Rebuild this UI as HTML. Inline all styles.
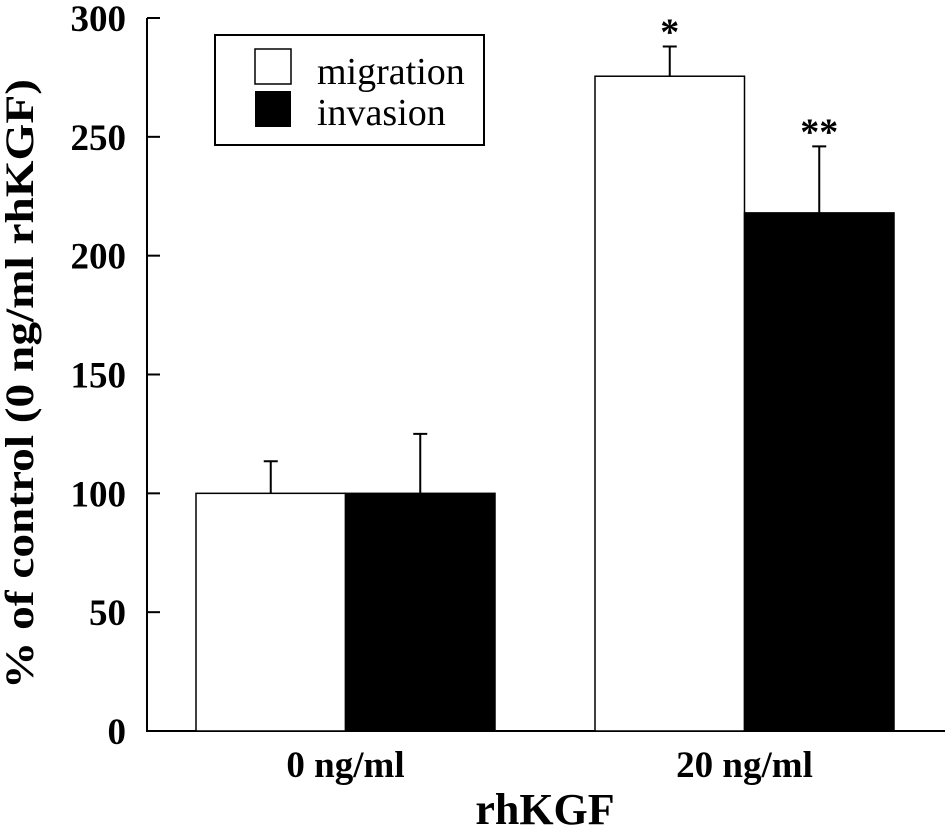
<!DOCTYPE html>
<html><head><meta charset="utf-8"><style>
body{margin:0;background:#fff}
svg{display:block;font-family:"Liberation Serif",serif}
</style></head><body>
<svg id="chart" width="945" height="830" viewBox="0 0 945 830"></svg>
<script>
const categories=["0 ng/ml","20 ng/ml"];
const migration=[100,275.5];
const invasion=[100,218];
const migrationErr=[13.5,12.5];
const invasionErr=[25,28];
const sigMarks=[["",""],["*","**"]];
const yTicks=[0,50,100,150,200,250,300];
const NS="http://www.w3.org/2000/svg";
const svg=document.getElementById('chart');
function y(v){return 731-v*(713/300);}
const groupStart=[196,595], barW=149.5;
function mk(t,a,p){const e=document.createElementNS(NS,t);for(const k in a)e.setAttribute(k,a[k]);(p||svg).appendChild(e);return e;}
let e=mk('line',{x1:147,y1:18,x2:147,y2:731,stroke:'#000','stroke-width':2});


e=mk('line',{x1:146,y1:731,x2:945,y2:731,stroke:'#000','stroke-width':2});


yTicks.forEach(t=>{
 const l=mk('line',{x1:147,y1:y(t),x2:160,y2:y(t),stroke:'#000','stroke-width':2});
 
 
 const tx=mk('text',{x:126,y:y(t)+13,'text-anchor':'end','font-size':37,'font-weight':'bold'});
 tx.textContent=t;
 
 
});
function errBar(cx,top,v){
 const g=mk('path',{d:`M${cx} ${y(v)}V${y(top)}M${cx-7} ${y(top)}H${cx+7}`,stroke:'#000','stroke-width':2,fill:'none'});
 
 
}
categories.forEach((c,i)=>{
 const x0=groupStart[i];
 const r1=mk('rect',{x:x0,y:y(migration[i]),width:barW,height:731-y(migration[i]),fill:'#fff',stroke:'#000','stroke-width':1.5});
 
 
 errBar(x0+barW/2,migration[i]+migrationErr[i],migration[i]);
 const r2=mk('rect',{x:x0+barW,y:y(invasion[i]),width:barW,height:731-y(invasion[i]),fill:'#000',stroke:'#000','stroke-width':1.5});
 
 
 errBar(x0+barW*1.5,invasion[i]+invasionErr[i],invasion[i]);
 [[sigMarks[i][0],x0+barW/2,migration[i]+migrationErr[i]],[sigMarks[i][1],x0+barW*1.5,invasion[i]+invasionErr[i]]].forEach(s=>{
  if(!s[0])return;
  const t=mk('text',{x:s[1],y:y(s[2])-2,'text-anchor':'middle','font-size':38,'font-weight':'bold'});
  t.textContent=s[0];
  
  
 });
 const lb=mk('text',{x:x0+barW,y:777,'text-anchor':'middle','font-size':37,'font-weight':'bold'});
 lb.textContent=c;
 
 
});
</script>
<script>
svg.insertAdjacentHTML('beforeend',`
<text x="545" y="824" text-anchor="middle" font-size="44" font-weight="bold">rhKGF</text>
<text transform="translate(33,384) rotate(-90)" text-anchor="middle" font-size="40" font-weight="bold" textLength="610" lengthAdjust="spacingAndGlyphs">% of control (0 ng/ml rhKGF)</text>
<g>
<rect x="215" y="35" width="269" height="110" fill="#fff" stroke="#000" stroke-width="2"/>
<rect x="255" y="49" width="36" height="35" fill="#fff" stroke="#000" stroke-width="1.5"/>
<rect x="255" y="91" width="36" height="36" fill="#000"/>
<text x="317" y="84" font-size="38">migration</text>
<text x="317" y="125" font-size="38">invasion</text>
</g>`);
</script>
</body></html>
